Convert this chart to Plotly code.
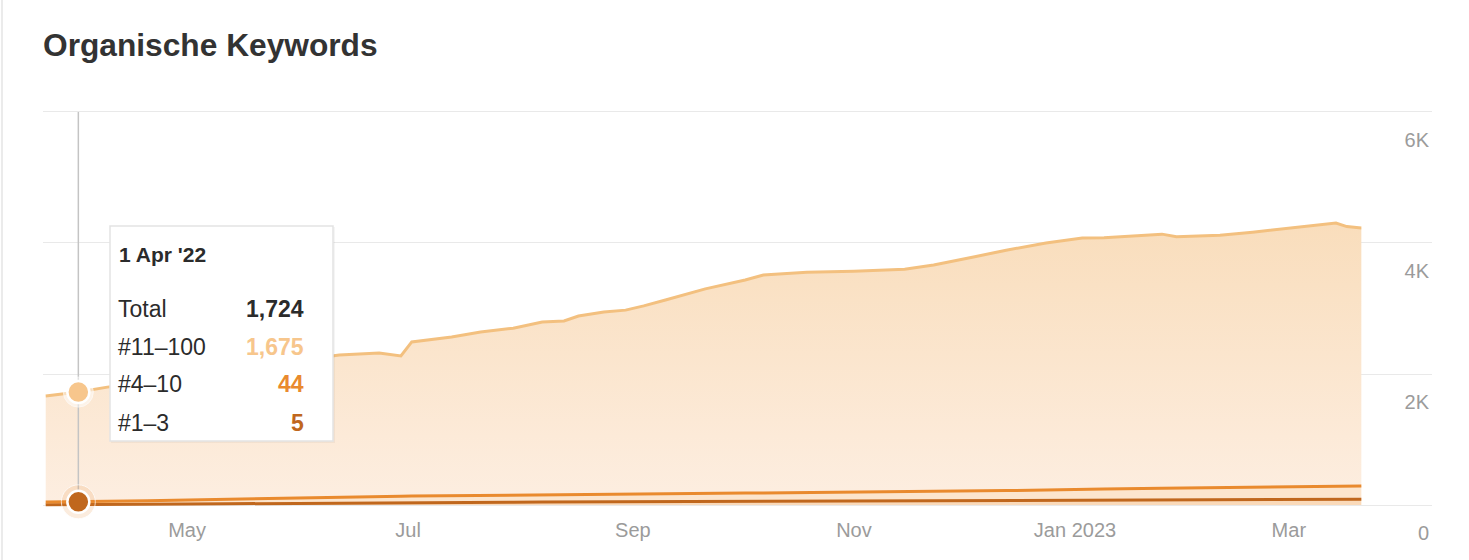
import plotly.graph_objects as go

# ---------------- data ----------------
dates = [
    "2022-03-23", "2022-04-01", "2022-04-09", "2022-04-20", "2022-05-01", "2022-05-12",
    "2022-05-23", "2022-06-03", "2022-06-12", "2022-06-23", "2022-06-29", "2022-07-02",
    "2022-07-13", "2022-07-21", "2022-07-30", "2022-08-07", "2022-08-13", "2022-08-17",
    "2022-08-24", "2022-08-30", "2022-09-04", "2022-09-10", "2022-09-21", "2022-10-02",
    "2022-10-07", "2022-10-19", "2022-11-01", "2022-11-15", "2022-11-23", "2022-12-04",
    "2022-12-13", "2022-12-24", "2023-01-03", "2023-01-09", "2023-01-25", "2023-01-29",
    "2023-02-10", "2023-02-19", "2023-03-05", "2023-03-14", "2023-03-17", "2023-03-21",
]
kw_1_3 = [
    5, 5, 8, 12, 15, 19, 24, 28, 32, 36, 38, 40, 41, 43, 44, 45, 46, 47, 48, 49, 50,
    51, 53, 55, 56, 58, 60, 62, 63, 66, 68, 71, 74, 75, 79, 80, 82, 84, 87, 89, 90, 90,
]
kw_4_10 = [
    43, 44, 48, 54, 60, 66, 73, 80, 86, 92, 96, 98, 101, 104, 107, 109, 111, 112, 114, 116, 118,
    120, 123, 127, 129, 132, 136, 139, 142, 147, 152, 158, 168, 170, 176, 178, 182, 186, 192, 196, 198, 200,
]
kw_11_100 = [
    1616, 1675, 1744, 1814, 1885, 1955, 2033, 2112, 2172, 2192, 2141, 2352, 2423, 2493,
    2549, 2641, 2653, 2726, 2783, 2810, 2872, 2959, 3124, 3253, 3325, 3365, 3374, 3399,
    3460, 3572, 3670, 3771, 3833, 3835, 3880, 3837, 3856, 3895, 3966, 4020, 3962, 3940,
]
series_names = ["#1–3", "#4–10", "#11–100"]
x_tickvals = ["2022-05-01", "2022-07-01", "2022-09-01", "2022-11-01", "2023-01-01", "2023-03-01"]
x_ticktext = ["May", "Jul", "Sep", "Nov", "Jan 2023", "Mar"]
y_tickvals = [0, 2000, 4000, 6000]
y_ticktext = ["0", "2K", "4K", "6K"]
hover_index = 1
hover_label = "1 Apr '22"

# ---------------- style ----------------
FONT = "Helvetica Neue, Helvetica, Arial, Liberation Sans, sans-serif"
C_TOP = "#F3C07F"
C_TOP_MARK = "#F7C68C"
C_MID = "#E98A2E"
C_LOW = "#C0671D"
GRAY = "#9B9B9B"

fig = go.Figure()

fig.add_trace(go.Scatter(
    x=dates, y=kw_1_3, name=series_names[0], mode="lines", stackgroup="kw",
    line=dict(color=C_LOW, width=3), fillcolor="rgba(250,214,178,0.9)",
))
fig.add_trace(go.Scatter(
    x=dates, y=kw_4_10, name=series_names[1], mode="lines", stackgroup="kw",
    line=dict(color=C_MID, width=3), fillcolor="rgba(252,226,200,0.9)",
))
fig.add_trace(go.Scatter(
    x=dates, y=kw_11_100, name=series_names[2], mode="lines", stackgroup="kw",
    line=dict(color=C_TOP, width=3),
    fillgradient=dict(type="vertical", start=0, stop=4400,
                      colorscale=[[0, "#FDEEE1"], [1, "#F9DDBB"]]),
))

# hover crosshair
hx = dates[hover_index]
low_v = kw_1_3[hover_index]
mid_v = kw_4_10[hover_index]
top_v = kw_11_100[hover_index]
total_v = low_v + mid_v + top_v

fig.add_trace(go.Scatter(
    x=[hx, hx], y=[y_tickvals[0], y_tickvals[-1]], mode="lines",
    line=dict(color="#C4C4C4", width=1.5), hoverinfo="skip",
))
# halos
fig.add_trace(go.Scatter(
    x=[hx, hx], y=[total_v, low_v + mid_v], mode="markers", cliponaxis=False,
    marker=dict(size=[30, 34], color=["rgba(255,255,255,0.7)", "rgba(233,138,46,0.22)"]),
    hoverinfo="skip",
))
fig.add_trace(go.Scatter(
    x=[hx, hx], y=[total_v, low_v + mid_v], mode="markers", cliponaxis=False,
    marker=dict(size=22, color=[C_TOP_MARK, C_LOW], line=dict(color="white", width=2.5)),
    hoverinfo="skip",
))

# plot area (screen px); y range padded slightly so edge gridlines are drawn
Y_PAD = 30
L, R = 43, 1432
T0, B0 = 112, 505                      # pixel rows of 6K and 0
pxu = (B0 - T0) / (y_tickvals[-1] - y_tickvals[0])
T, B = T0 - Y_PAD * pxu, B0 + Y_PAD * pxu
W, H = R - L, B - T
def px(x):
    return (x - L) / W
def py(y):
    return (B - y) / H

shapes = [
    dict(type="rect", xref="paper", yref="paper", x0=px(111), x1=px(335), y0=py(443), y1=py(227),
         fillcolor="rgba(0,0,0,0.04)", line=dict(width=0), layer="above"),
    dict(type="rect", xref="paper", yref="paper", x0=px(110), x1=px(333), y0=py(441), y1=py(226),
         fillcolor="white", line=dict(color="#E3E3E3", width=1.5), layer="above"),
    dict(type="line", xref="paper", yref="paper", x0=px(2), x1=px(2), y0=py(560), y1=py(0),
         line=dict(color="#E4E4E4", width=1.5), layer="above"),
]

annotations = [
    dict(text=f"<b>{hover_label}</b>", x=px(117), y=py(255), xanchor="left", yanchor="middle",
         font=dict(size=21, color="#2B2B2B", family=FONT)),
]
rows = [
    ("Total", f"{total_v:,}", "#2B2B2B", 309),
    (series_names[2], f"{top_v:,}", C_TOP_MARK, 347),
    (series_names[1], f"{mid_v:,}", C_MID, 384),
    (series_names[0], f"{low_v:,}", C_LOW, 423),
]
for label, val, col, yy in rows:
    annotations.append(dict(text=label, x=px(116), y=py(yy), xanchor="left", yanchor="middle",
                            font=dict(size=23, color="#2B2B2B", family=FONT)))
    annotations.append(dict(text=f"<b>{val}</b>", x=px(306), y=py(yy), xanchor="right", yanchor="middle",
                            font=dict(size=23, color=col, family=FONT)))
for a in annotations:
    a.update(xref="paper", yref="paper", showarrow=False)

fig.update_layout(
    width=1469, height=560,
    margin=dict(l=L, r=1469 - R, t=T, b=560 - B, autoexpand=False),
    paper_bgcolor="white", plot_bgcolor="white",
    showlegend=False, hovermode=False,
    font=dict(family=FONT),
    title=dict(text="Organische Keywords", x=43 / 1469, xref="container", xanchor="left",
               y=1 - 45 / 560, yref="container", yanchor="middle",
               font=dict(size=31.7, color="#333333", family=FONT, weight=700)),
    xaxis=dict(type="date", range=["2022-03-22 06:00", "2023-04-09 12:00"],
               tickvals=x_tickvals, ticktext=x_ticktext, showgrid=False, showline=False,
               zeroline=False, ticks="", tickfont=dict(size=20, color=GRAY, family=FONT),
               ticklabelstandoff=9),
    yaxis=dict(range=[y_tickvals[0] - Y_PAD, y_tickvals[-1] + Y_PAD], side="right",
               tickvals=y_tickvals, ticktext=y_ticktext,
               showgrid=True, gridcolor="#E9E9E9", gridwidth=1, zeroline=False, showline=False,
               ticks="", ticklabelposition="inside", ticklabelshift=28, ticklabeloverflow="allow",
               tickfont=dict(size=20, color=GRAY, family=FONT)),
    shapes=shapes, annotations=annotations,
)

fig.write_html("out.html", config={"displayModeBar": False},
               post_script="document.body.style.margin='0';")
